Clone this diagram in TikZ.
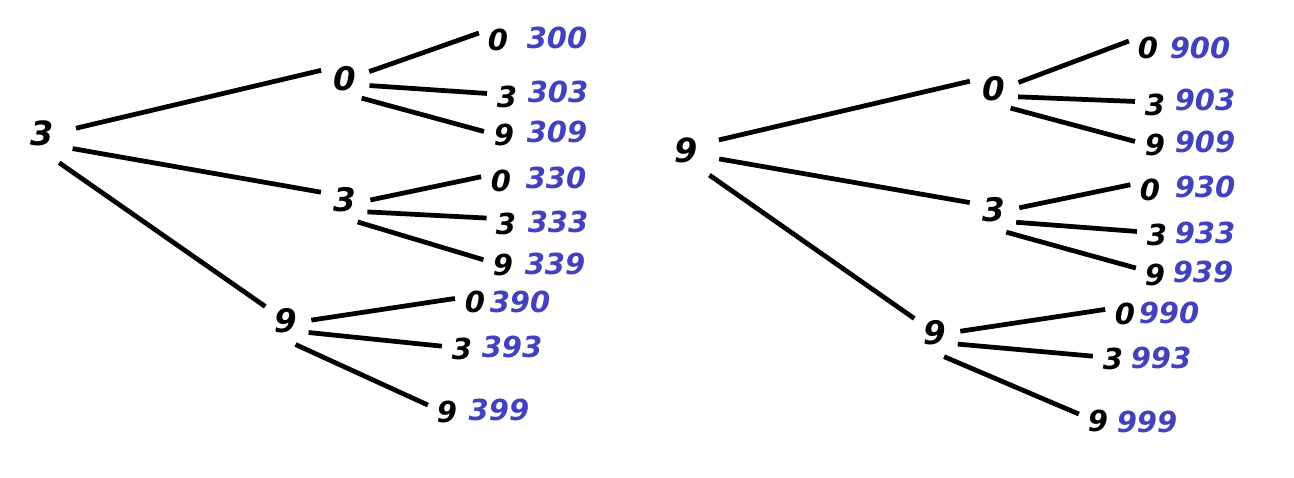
\documentclass[tikz,border=0pt]{standalone}
\usepackage{fontspec}
\setmainfont{DejaVu Sans}
\usepackage{xcolor}
\usepackage{tikz}
\definecolor{numblue}{RGB}{66,66,190}
\tikzset{
	rootnum/.style={circle,inner sep=0pt,minimum size=1.36cm,font=\fontsize{19}{19}\selectfont\bfseries\itshape},
	midnum/.style={circle,inner sep=0pt,minimum size=1.0cm,font=\fontsize{18.5}{19}\selectfont\bfseries\itshape},
	leafnum/.style={circle,inner sep=0pt,minimum size=0.8cm,font=\fontsize{16.5}{17}\selectfont\bfseries\itshape},
	total/.style={inner sep=0pt,text=numblue,font=\fontsize{16.5}{17}\selectfont\bfseries\itshape},
	branch/.style={line width=2.7pt}
}

\begin{document}
\begin{tikzpicture}[x=0.02cm,y=-0.02cm]
	\useasboundingbox (0,0) rectangle (1294,477);
	% first tree
	\node[rootnum] (r3) at (42,133) {3};
	\node[midnum] (r3a) at (345,79) {0};
	\node[midnum] (r3b) at (345,200) {3};
	\node[midnum] (r3c) at (286,321) {9};
	\node[leafnum] (r3a0) at (498,40) {0};
	\node[leafnum] (r3a3) at (507,97) {3};
	\node[leafnum] (r3a9) at (504,135) {9};
	\node[leafnum] (r3b0) at (501,181) {0};
	\node[leafnum] (r3b3) at (506,224) {3};
	\node[leafnum] (r3b9) at (503,265) {9};
	\node[leafnum] (r3c0) at (475,302) {0};
	\node[leafnum] (r3c3) at (462,349) {3};
	\node[leafnum] (r3c9) at (447,412) {9};
	\node[total] (t300) at (557,38) {300};
	\node[total] (t303) at (558,92) {303};
	\node[total] (t309) at (557,132) {309};
	\node[total] (t330) at (556,178) {330};
	\node[total] (t333) at (558,222) {333};
	\node[total] (t339) at (555,264) {339};
	\node[total] (t390) at (520,302) {390};
	\node[total] (t393) at (512,347) {393};
	\node[total] (t399) at (499,410) {399};
	\draw[branch] (r3.8)--(r3a.160);
	\draw[branch] (r3.-27)--(r3b.162);
	\draw[branch] (r3.-60)--(r3c.145);
	\draw[branch] (r3a.17)--(r3a0.160);
	\draw[branch] (r3a.-15)--(r3a3.170);
	\draw[branch] (r3a.-49)--(r3a9.170);
	\draw[branch] (r3b.0)--(r3b0.168);
	\draw[branch] (r3b.-28)--(r3b3.163);
	\draw[branch] (r3b.-60)--(r3b9.165);
	\draw[branch] (r3c.2)--(r3c0.170);
	\draw[branch] (r3c.-27)--(r3c3.172);
	\draw[branch] (r3c.-68)--(r3c9.160);
	% second tree
	\node[rootnum] (r9) at (686,150) {9};
	\node[midnum] (r9a) at (994,89) {0};
	\node[midnum] (r9b) at (994,210) {3};
	\node[midnum] (r9c) at (935,333) {9};
	\node[leafnum] (r9a0) at (1148,48) {0};
	\node[leafnum] (r9a3) at (1155,105) {3};
	\node[leafnum] (r9a9) at (1155,145) {9};
	\node[leafnum] (r9b0) at (1150,190) {0};
	\node[leafnum] (r9b3) at (1157,235) {3};
	\node[leafnum] (r9b9) at (1155,275) {9};
	\node[leafnum] (r9c0) at (1125,314) {0};
	\node[leafnum] (r9c3) at (1113,359) {3};
	\node[leafnum] (r9c9) at (1098,421) {9};
	\node[total] (t900) at (1200,48) {900};
	\node[total] (t903) at (1205,100) {903};
	\node[total] (t909) at (1205,142) {909};
	\node[total] (t930) at (1205,187) {930};
	\node[total] (t933) at (1205,233) {933};
	\node[total] (t939) at (1203,272) {939};
	\node[total] (t990) at (1169,313) {990};
	\node[total] (t993) at (1161,358) {993};
	\node[total] (t999) at (1147,422) {999};
	\draw[branch] (r9.17)--(r9a.162);
	\draw[branch] (r9.-15)--(r9b.163);
	\draw[branch] (r9.-47)--(r9c.145);
	\draw[branch] (r9a.15)--(r9a0.160);
	\draw[branch] (r9a.-18)--(r9a3.170);
	\draw[branch] (r9a.-49)--(r9a9.170);
	\draw[branch] (r9b.5)--(r9b0.165);
	\draw[branch] (r9b.-29)--(r9b3.170);
	\draw[branch] (r9b.-61)--(r9b9.160);
	\draw[branch] (r9c.4)--(r9c0.167);
	\draw[branch] (r9c.-26)--(r9c3.172);
	\draw[branch] (r9c.-69)--(r9c9.160);
\end{tikzpicture}
\end{document}
